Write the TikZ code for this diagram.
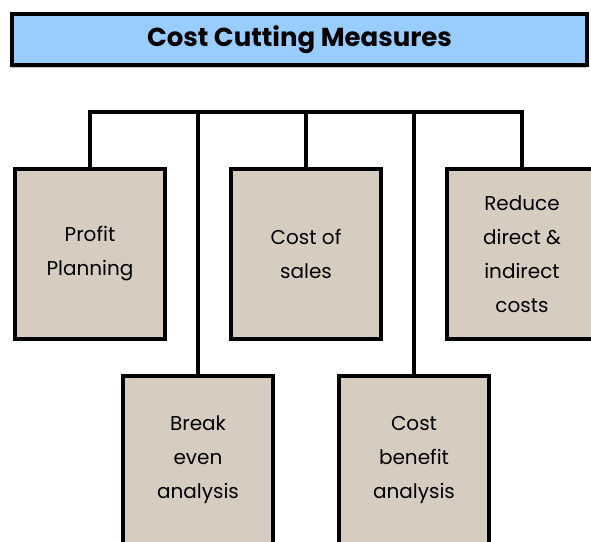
\documentclass[tikz,border=0pt]{standalone}
\usepackage{fontspec}
\setmainfont{Poppins}
\usetikzlibrary{shadows,positioning}
\definecolor{titleblue}{HTML}{99CCFF}
\definecolor{boxgrey}{HTML}{D6CCC0}
\tikzstyle{title}=[draw,fill=titleblue,line width=3.4pt,minimum width=575pt,
  minimum height=51pt,font=\fontsize{26}{30}\selectfont\bfseries,
  drop shadow={shadow xshift=-1.5pt,shadow yshift=-3.5pt,opacity=.5}]
\tikzstyle{item}=[draw,fill=boxgrey,line width=3.4pt,minimum width=150pt,
  minimum height=170pt,align=center,font=\fontsize{20}{34}\selectfont]
\tikzstyle{link}=[line width=3.2pt]

\begin{document}
\begin{tikzpicture}[x=1pt, y=1pt, node distance=216pt, on grid]
  \clip (0,0) rectangle (591,541);
  \fill[white] (0,0) rectangle (591,541);

  \node[title] (t) at (299.5,501.5) {Cost Cutting Measures};
  \coordinate (bus) at (0,429);

  % upper row
  \node[item] (1) at (90,287) {Profit\\Planning};
  \node[item, right=of 1] (3) {Cost of\\sales};
  \node[item, right=of 3] (5) {Reduce\\direct \&\\indirect\\costs};
  % lower row
  \node[item, minimum height=168pt] (2) at (198,81) {Break\\even\\analysis};
  \node[item, minimum height=168pt, right=of 2] (4) {Cost\\benefit\\analysis};

  \draw[link] (1.north) -- (1.north |- bus) -| (5.north);
  \foreach \n in {2,3,4}
    \draw[link] (\n.north) -- (\n.north |- bus);

\end{tikzpicture}
\end{document}
